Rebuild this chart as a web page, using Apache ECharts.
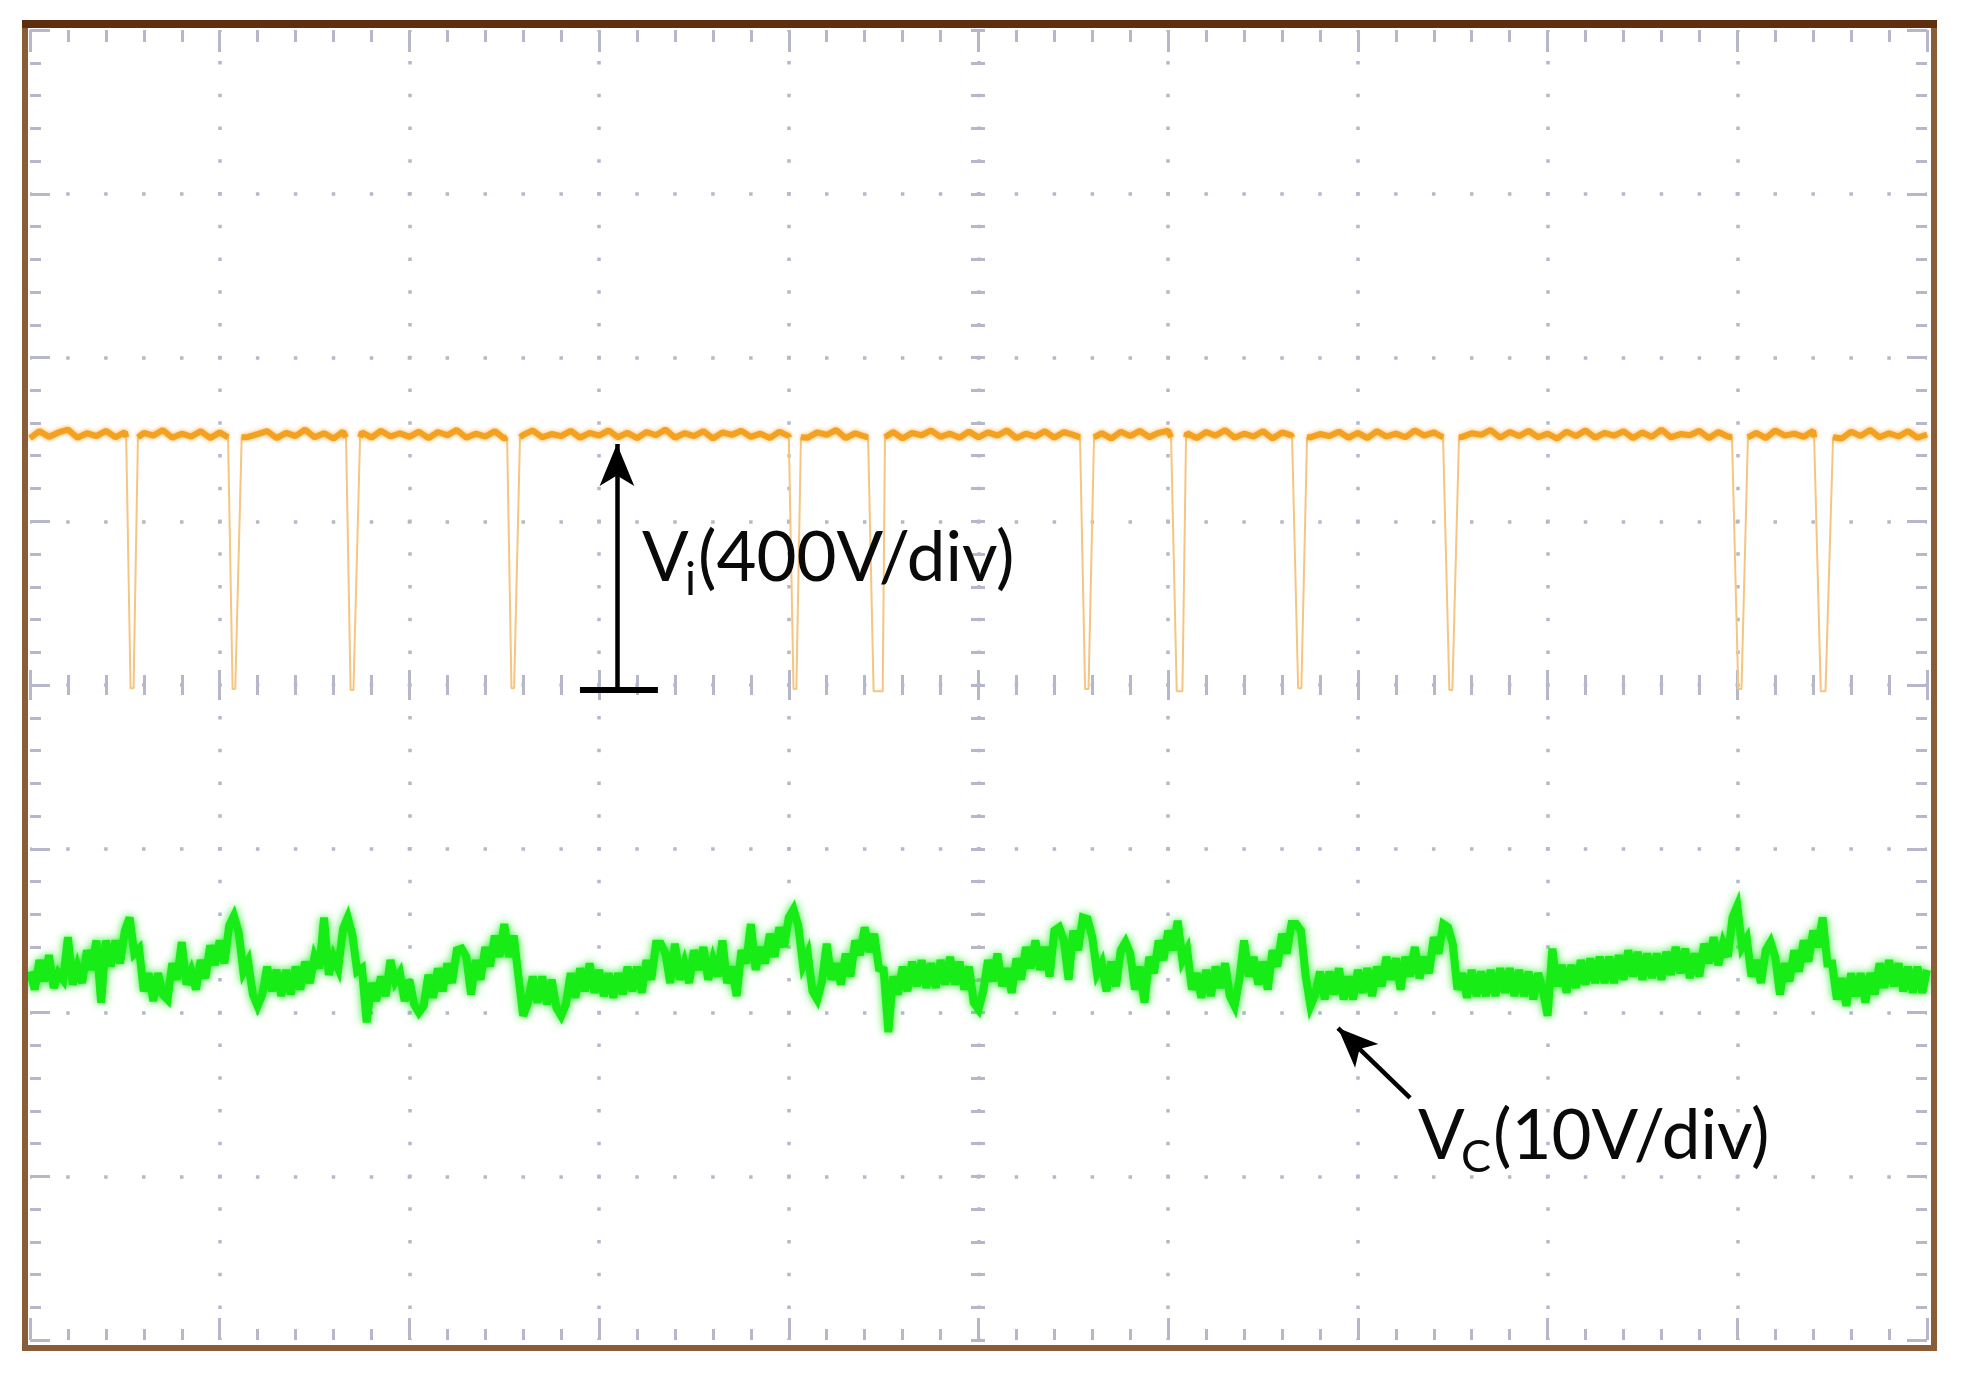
<!DOCTYPE html>
<html>
<head>
<meta charset="utf-8">
<script src="https://cdn.jsdelivr.net/npm/echarts@6/dist/echarts.min.js"></script>
<style>
  html, body { margin: 0; padding: 0; background: #fff; }
  #main { width: 1961px; height: 1380px; }
</style>
</head>
<body>
<div id="main"></div>
<script>
// time axis in divisions (10 div across), Vi at 400 V/div, Vc at 10 V/div

// Vi high level, sampled every 0.05 div
var viStep = 0.05;
var viLevel = [
  603,620,606,617,624,604,615,608,621,605,618,602,616,609,623,604,614,607,620,603,
  617,605,622,606,613,620,603,616,608,624,605,615,602,619,609,617,604,621,607,615,
  606,619,603,618,610,623,604,614,607,620,602,617,611,622,605,613,608,621,604,616,
  609,622,605,616,603,618,610,624,604,615,608,620,602,617,611,621,606,614,603,619,
  608,620,604,617,611,623,603,615,607,621,605,618,602,616,610,622,606,614,604,619,
  605,617,609,622,603,614,607,620,604,618,611,623,606,615,602,619,608,621,605,616,
  621,606,615,603,618,609,623,604,614,607,620,602,617,610,622,605,613,608,619,604,
  616,603,620,607,614,605,622,609,617,602,619,606,615,611,623,604,618,608,621,605,
  614,602,619,608,622,604,616,609,620,603,617,606,624,605,613,610,621,603,618,607,
  620,605,616,603,622,609,614,606,621,604,617,602,619,608,623,605,615,607,620,604,
  612
];

// Vi notches: [t, V] points of each dip
var viDips = [
  [[0.507, 605], [0.530, -8], [0.546, -8], [0.569, 605]],
  [[1.044, 605], [1.068, -10], [1.082, -10], [1.116, 605]],
  [[1.666, 605], [1.690, -12], [1.705, -12], [1.740, 605]],
  [[2.515, 605], [2.538, -8], [2.552, -8], [2.583, 605]],
  [[4.001, 605], [4.025, -10], [4.040, -10], [4.064, 605]],
  [[4.418, 605], [4.447, -15], [4.495, -15], [4.507, 605]],
  [[5.535, 605], [5.562, -10], [5.580, -10], [5.609, 605]],
  [[6.015, 605], [6.045, -15], [6.075, -15], [6.094, 605]],
  [[6.653, 605], [6.685, -8], [6.702, -8], [6.732, 605]],
  [[7.449, 605], [7.482, -12], [7.498, -12], [7.533, 605]],
  [[8.972, 605], [9.005, -10], [9.022, -10], [9.056, 605]],
  [[9.405, 605], [9.440, -15], [9.465, -15], [9.505, 605]]
];

// Vc, sampled every 0.025 div (one row per division)
var vcStep = 0.025;
var vcSamples = [
  22.5,21.4,23.2,21.9,23.5,21.5,22.4,22.0,24.6,21.7,22.8,21.8,23.8,22.6,24.4,20.6,24.4,22.8,24.4,23.0,25.0,25.8,23.6,23.9,21.3,22.4,20.7,22.4,21.1,20.8,23.0,22.0,24.3,21.7,22.5,21.4,23.2,22.1,24.1,22.9,
  24.4,23.0,25.3,25.9,24.9,22.5,23.1,21.1,20.4,21.1,22.8,21.3,22.6,21.0,22.6,21.1,22.8,21.4,23.1,21.8,23.4,22.7,25.8,22.3,23.4,22.7,25.1,25.8,24.7,22.5,22.7,19.4,21.8,20.7,22.2,21.0,23.2,21.9,22.4,20.7,
  22.0,20.5,20.0,20.4,22.3,20.9,22.7,21.3,23.0,21.8,23.8,23.9,23.4,21.1,23.2,22.0,24.0,22.8,24.7,23.4,25.4,23.4,24.7,22.2,19.8,20.6,22.2,20.6,22.2,20.5,22.0,20.3,19.8,20.5,22.4,20.9,22.7,21.3,23.0,21.2,
  22.6,21.0,22.4,20.9,22.4,21.1,22.8,21.3,22.8,21.2,23.2,22.0,24.2,24.2,23.6,21.8,24.2,22.0,23.0,21.8,23.8,22.6,24.0,22.0,23.2,22.2,24.4,21.8,22.8,21.0,23.8,23.0,25.4,22.6,24.0,23.0,24.8,23.4,25.2,24.0,
  25.8,26.3,25.3,22.9,23.6,21.3,20.8,21.9,24.2,22.0,23.0,21.7,23.6,22.2,24.4,23.5,25.2,23.7,24.8,22.7,22.6,18.8,22.2,21.1,22.8,21.3,23.1,21.6,23.2,21.5,23.0,21.5,23.2,21.7,23.4,21.7,23.1,21.4,22.8,20.6,
  20.2,21.3,23.2,21.9,23.6,21.6,22.7,21.2,23.3,22.0,24.0,22.7,24.4,22.6,24.0,22.2,25.0,25.2,24.4,22.0,25.0,23.8,25.8,25.7,24.6,22.4,23.0,21.3,23.1,21.6,23.8,24.3,23.6,21.4,22.8,20.6,23.4,22.4,24.4,23.2,
  25.0,23.8,25.6,23.2,23.8,21.4,22.4,20.9,22.6,21.0,22.8,21.5,23.0,21.0,20.4,22.0,24.4,22.2,23.4,21.7,23.1,21.4,23.8,22.8,24.8,23.6,25.4,25.4,25.0,22.2,20.4,21.1,22.5,20.8,22.5,21.1,22.7,20.8,22.2,20.8,
  22.6,21.2,22.7,21.0,22.8,21.6,23.4,22.0,23.3,21.4,23.4,22.2,24.0,22.1,23.4,22.4,24.6,23.6,25.4,25.2,24.2,21.4,22.4,20.9,22.6,21.0,22.5,21.0,22.6,21.0,22.7,21.2,22.7,21.0,22.6,21.0,22.5,20.8,22.4,21.4,
  19.8,23.9,21.6,22.9,21.2,22.9,21.5,23.2,21.7,23.3,21.8,23.4,21.8,23.4,21.8,23.5,22.0,23.8,22.2,23.7,22.0,23.6,22.1,23.6,22.0,23.7,22.3,24.0,22.4,23.9,22.1,23.6,22.2,24.2,23.0,24.6,22.9,24.2,23.4,25.8,
  26.5,24.0,24.5,22.2,23.2,21.8,23.8,24.3,23.4,21.1,23.0,21.9,23.8,22.5,24.4,23.1,25.0,24.0,25.8,23.0,23.0,20.8,22.1,20.4,22.4,21.0,22.4,20.6,22.4,21.1,23.0,21.5,23.2,21.6,23.0,21.3,22.8,21.2,22.8,21.2,
  22.6
];

// merge level samples with the notches
var viPoints = [];
viLevel.forEach(function (v, i) {
  var t = +(i * viStep).toFixed(3);
  var inDip = viDips.some(function (d) { return t >= d[0][0] && t <= d[d.length - 1][0]; });
  if (!inDip) viPoints.push([t, v]);
});
viDips.forEach(function (d) { d.forEach(function (p) { viPoints.push(p); }); });
viPoints.sort(function (a, b) { return a[0] - b[0]; });
// bright trace only on the high level, the fast edges stay faint
var viHigh = viPoints.map(function (p) { return p[1] > 500 ? p : [p[0], null]; });

var vcPoints = vcSamples.map(function (v, i) { return [+(i * vcStep).toFixed(3), v]; });

var chartDom = document.getElementById('main');
var myChart = echarts.init(chartDom);

var dotColor = '#b7b7cb';
function edgeX(pos, inside, len, mlen, offset) {
  return {
    type: 'value', min: 0, max: 10, interval: 1, position: pos, offset: offset || 0,
    axisLine: { show: false, onZero: false },
    axisLabel: { show: false },
    axisTick: { show: true, inside: inside, length: len, lineStyle: { color: dotColor, width: 3 } },
    minorTick: { show: true, splitNumber: 5, length: mlen, lineStyle: { color: dotColor, width: 3 } },
    splitLine: { show: false }
  };
}
function edgeY(pos, inside, len, mlen, offset) {
  return {
    type: 'value', min: -1600, max: 1600, interval: 400, position: pos, offset: offset || 0,
    axisLine: { show: false, onZero: false },
    axisLabel: { show: false },
    axisTick: { show: true, inside: inside, length: len, lineStyle: { color: dotColor, width: 3 } },
    minorTick: { show: true, splitNumber: 5, length: mlen, lineStyle: { color: dotColor, width: 3 } },
    splitLine: { show: false }
  };
}

var xMain = edgeX('bottom', true, 22, 11);
xMain.splitLine = {
  show: true, showMinLine: false, showMaxLine: false,
  lineStyle: { color: dotColor, width: 3.5, type: [3.5, 29.25], dashOffset: 1.75 }
};
var yMain = edgeY('left', true, 20, 11);
yMain.splitLine = {
  show: true, showMinLine: false, showMaxLine: false,
  lineStyle: { color: dotColor, width: 3.5, type: [3.5, 34.44], dashOffset: 1.75 }
};

var option = {
  animation: false,
  backgroundColor: '#ffffff',
  grid: { left: 30, top: 30, width: 1897, height: 1310, show: false },
  xAxis: [
    xMain,
    edgeX('top', true, 22, 12),
    edgeX('bottom', true, 15, 10, -655),
    edgeX('bottom', false, 15, 10, -655)
  ],
  yAxis: [
    yMain,
    edgeY('right', true, 20, 11),
    edgeY('left', true, 7, 7, -948),
    edgeY('left', false, 7, 7, -948),
    { type: 'value', min: 0, max: 80, show: false, axisLine: { onZero: false } }
  ],
  graphic: [
    {
      type: 'rect', z: 100, silent: true,
      shape: { x: 25, y: 24, width: 1909, height: 1324 },
      style: { fill: 'none', stroke: '#8a5c38', lineWidth: 6 }
    },
    {
      type: 'line', z: 101, silent: true,
      shape: { x1: 22, y1: 24, x2: 1937, y2: 24 },
      style: { stroke: '#5e2e0e', lineWidth: 8 }
    },
    { type: 'text', left: 642, top: 524, z: 100,
      style: { text: 'V', font: '69px Lato', fill: '#0a0a0a' } },
    { type: 'text', left: 685, top: 557, z: 100,
      style: { text: 'i', font: '46px Lato', fill: '#0a0a0a' } },
    { type: 'text', left: 698, top: 524, z: 100,
      style: { text: '(400V/div)', font: '69px Lato', fill: '#0a0a0a' } },
    { type: 'text', left: 1418, top: 1102, z: 100,
      style: { text: 'V', font: '69px Lato', fill: '#0a0a0a' } },
    { type: 'text', left: 1461, top: 1135, z: 100,
      style: { text: 'C', font: '45px Lato', fill: '#0a0a0a' } },
    { type: 'text', left: 1493, top: 1102, z: 100,
      style: { text: '(10V/div)', font: '69px Lato', fill: '#0a0a0a' } }
  ],
  series: [
    {
      name: 'Vi edges',
      type: 'line',
      xAxisIndex: 0, yAxisIndex: 0,
      data: viPoints,
      showSymbol: false,
      lineStyle: { color: '#f6c57f', width: 2 },
      z: 3,
      markLine: {
        silent: true,
        symbol: ['none', 'arrow'],
        label: { show: false },
        lineStyle: { color: '#000000', width: 4.5, type: 'solid', shadowBlur: 0 },
        data: [
          [{ coord: [3.094, -12], symbol: 'none' },
           { coord: [3.094, 589], symbol: 'arrow', symbolSize: [26, 42] }],
          [{ coord: [2.899, -12], symbol: 'none' },
           { coord: [3.31, -12], symbol: 'none', lineStyle: { width: 6 } }]
        ]
      }
    },
    {
      name: 'Vi',
      type: 'line',
      xAxisIndex: 0, yAxisIndex: 0,
      data: viHigh,
      showSymbol: false,
      connectNulls: false,
      lineStyle: { color: '#f4a020', width: 6, shadowColor: 'rgba(244,160,32,0.8)', shadowBlur: 4 },
      z: 4
    },
    {
      name: 'Vc',
      type: 'line',
      xAxisIndex: 0, yAxisIndex: 4,
      data: vcPoints,
      showSymbol: false,
      lineStyle: { color: '#17ec17', width: 8, join: 'miter', miterLimit: 4,
                   shadowColor: 'rgba(23,236,23,0.9)', shadowBlur: 8 },
      z: 5,
      markLine: {
        silent: true,
        label: { show: false },
        lineStyle: { color: '#000000', width: 4.5, type: 'solid', shadowBlur: 0 },
        data: [
          [{ coord: [7.275, 14.78], symbol: 'none' },
           { coord: [6.895, 19.05], symbol: 'arrow', symbolSize: [25, 40] }]
        ]
      }
    }
  ]
};

myChart.setOption(option);
window.addEventListener('resize', function () {
  myChart.resize();
});
</script>
</body>
</html>
